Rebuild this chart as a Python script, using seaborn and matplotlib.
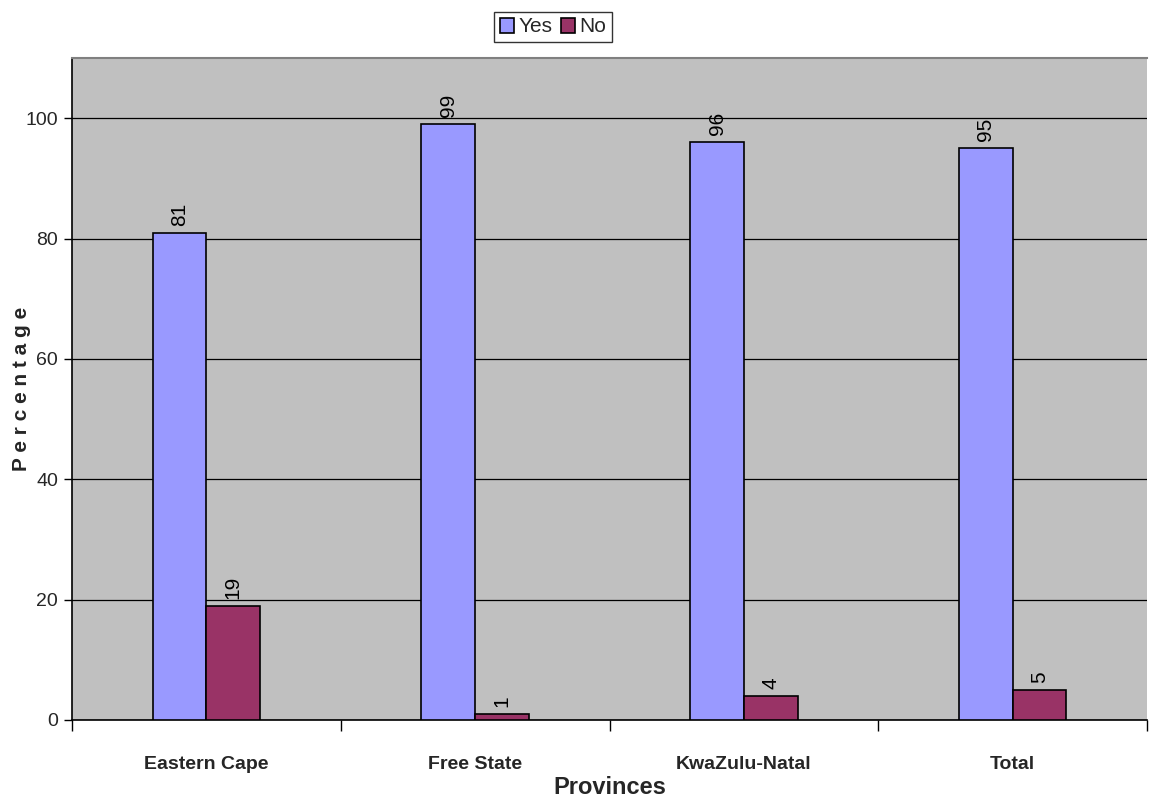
import matplotlib
matplotlib.use("Agg")
import matplotlib.pyplot as plt
from matplotlib import font_manager
from matplotlib.patches import Patch
import pandas as pd
import seaborn as sns

provinces = ["Eastern Cape", "Free State", "KwaZulu-Natal", "Total"]
yes_pct = [81, 99, 96, 95]
no_pct = [19, 1, 4, 5]
series = ["Yes", "No"]
colors = {"Yes": "#9999FF", "No": "#993366"}

sns.set_theme(style="white")
installed = {f.name for f in font_manager.fontManager.ttflist}
narrow = "Liberation Sans Narrow" if "Liberation Sans Narrow" in installed else "Liberation Sans"
plt.rcParams["font.family"] = ["Liberation Sans", "DejaVu Sans"]

df = pd.DataFrame({
    "Province": provinces * 2,
    "Answer": ["Yes"] * len(provinces) + ["No"] * len(provinces),
    "Percentage": yes_pct + no_pct,
})

fig = plt.figure(figsize=(11.49, 8.01), dpi=100)
ax = fig.add_axes([72 / 1149, 1 - 720 / 801, 1075 / 1149, 662 / 801])
ax.set_facecolor("#C0C0C0")

sns.barplot(data=df, x="Province", y="Percentage", hue="Answer",
            hue_order=series, palette=colors, width=0.4,
            edgecolor="black", linewidth=1.2, saturation=1, ax=ax,
            legend=False, zorder=3)

for cont in ax.containers:
    ax.bar_label(cont, fmt="%g", rotation=90, padding=5, fontsize=15,
                 color="black")

ax.set_xlim(-0.5, len(provinces) - 0.5)
ax.set_ylim(0, 110)
ax.set_yticks([0, 20, 40, 60, 80, 100])
ax.yaxis.grid(True, color="black", linewidth=0.9)
ax.set_axisbelow(True)
ax.tick_params(axis="y", which="major", labelsize=14, length=6, width=1,
               direction="out", left=True, color="black", pad=4)

ax.set_xticks(range(len(provinces)))
ax.set_xticklabels(provinces, fontsize=14, fontweight="bold",
                   family=[narrow, "DejaVu Sans"])
ax.tick_params(axis="x", which="major", length=0, pad=26)
ax.set_xticks([i - 0.5 for i in range(len(provinces) + 1)], minor=True)
ax.tick_params(axis="x", which="minor", length=8, width=1,
               direction="out", bottom=True, color="black")

for side in ["left", "bottom"]:
    ax.spines[side].set_color("black")
    ax.spines[side].set_linewidth(1.2)
ax.spines["top"].set_color("#808080")
ax.spines["top"].set_linewidth(1.5)
ax.spines["right"].set_visible(False)

ax.set_xlabel("Provinces", fontsize=17, fontweight="bold",
              family=[narrow, "DejaVu Sans"], labelpad=2)
ax.set_ylabel("P e r c e n t a g e", fontsize=15, fontweight="bold",
              labelpad=-4)

handles = [Patch(facecolor=colors[s], edgecolor="black", linewidth=1.2,
                 label=s) for s in series]
leg = fig.legend(handles=handles, loc="center", ncol=2,
                 bbox_to_anchor=(553 / 1149, 1 - 27 / 801),
                 frameon=True, fancybox=False, edgecolor="black",
                 handlelength=0.7, handleheight=0.7, handletextpad=0.2,
                 columnspacing=0.4, borderpad=0.25,
                 prop={"family": [narrow, "DejaVu Sans"], "size": 15})
leg.get_frame().set_linewidth(1.0)

fig.savefig("out.png", dpi=100, facecolor="white")
